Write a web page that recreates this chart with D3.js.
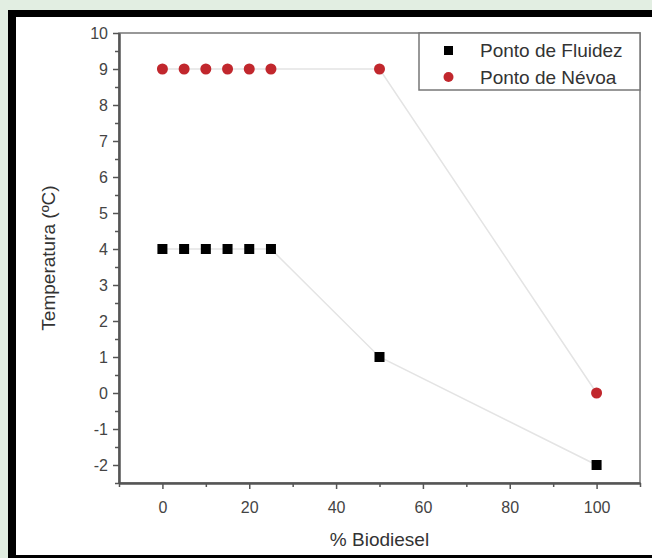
<!DOCTYPE html>
<html>
<head>
<meta charset="utf-8">
<script src="https://cdn.jsdelivr.net/npm/d3@7"></script>
<style>
  html, body { margin: 0; overflow: hidden; background: #e2eee2; }
  svg { display: block; }
  text { font-family: "Liberation Sans", Arial, sans-serif; }
</style>
</head>
<body>
<div id="chart"></div>
<script>
var wd = 652, ht = 558;

// data
var biodiesel = [0, 5, 10, 15, 20, 25, 50, 100];
var fluidez = [4, 4, 4, 4, 4, 4, 1, -2];
var nevoa = [9, 9, 9, 9, 9, 9, 9, 0];
var seriesNames = ["Ponto de Fluidez", "Ponto de Névoa"];
var xTicks = [0, 20, 40, 60, 80, 100];
var yTicks = [-2, -1, 0, 1, 2, 3, 4, 5, 6, 7, 8, 9, 10];

var margin = { top: 33, right: 12, bottom: 75, left: 119 };

var svg = d3.select("#chart").append("svg").attr("width", wd).attr("height", ht);

// white sheet, black border on top, left and bottom only (image is cut on the right)
svg.append("rect").attr("x", 8).attr("y", 10).attr("width", wd - 8).attr("height", ht - 10).attr("fill", "#fff");
svg.append("rect").attr("x", 8).attr("y", 10).attr("width", wd - 8).attr("height", 7).attr("fill", "#000");
svg.append("rect").attr("x", 8).attr("y", 10).attr("width", 8).attr("height", ht - 10).attr("fill", "#000");
svg.append("rect").attr("x", 8).attr("y", 555).attr("width", wd - 8).attr("height", 3).attr("fill", "#000");

var xScale = d3.scaleLinear().domain([-10, 110]).range([margin.left, wd - margin.right]);
var yScale = d3.scaleLinear().domain([-2.5, 10]).range([ht - margin.bottom, margin.top]);

var axisColor = "#555";

// plot box
svg.append("rect")
   .attr("x", xScale(-10)).attr("y", yScale(10))
   .attr("width", xScale(110) - xScale(-10)).attr("height", yScale(-2.5) - yScale(10))
   .attr("fill", "none").attr("stroke", "#777").attr("stroke-width", 1.5);

var plain = function(d){ return String(d); };
var xAxis = d3.axisBottom(xScale).tickValues(xTicks).tickSize(6).tickSizeOuter(0).tickFormat(plain);
var xMinor = d3.axisBottom(xScale).tickValues(d3.range(-10, 111, 10).filter(function(v){ return v % 20 != 0; })).tickSize(4).tickFormat("").tickSizeOuter(0);
var yAxis = d3.axisLeft(yScale).tickValues(yTicks).tickSize(6).tickSizeOuter(0).tickFormat(plain);
var yMinor = d3.axisLeft(yScale).tickValues(d3.range(-2.5, 10, 1)).tickSize(4).tickFormat("").tickSizeOuter(0);

function styleAxis(g)
{
  g.select(".domain").attr("stroke", axisColor).attr("stroke-width", 2);
  g.selectAll(".tick line").attr("stroke", axisColor).attr("stroke-width", 1.5);
  g.selectAll(".tick text").attr("fill", "#444").style("font-size", "16px").style("font-family", "Liberation Sans, Arial, sans-serif");
}

svg.append("g").attr("transform", "translate(0," + yScale(-2.5) + ")").call(xMinor).call(styleAxis);
svg.append("g").attr("class", "axis x").attr("transform", "translate(0," + yScale(-2.5) + ")").call(xAxis).call(styleAxis)
   .selectAll(".tick text").attr("dy", "1.3em");
svg.append("g").attr("transform", "translate(" + xScale(-10) + ",0)").call(yMinor).call(styleAxis);
svg.append("g").attr("class", "axis y").attr("transform", "translate(" + xScale(-10) + ",0)").call(yAxis).call(styleAxis)
   .selectAll(".tick text").attr("x", -11);

// connecting lines
var line = d3.line().x(function(d){ return xScale(d[0]); }).y(function(d){ return yScale(d[1]); });
[fluidez, nevoa].forEach(function(vals)
{
  svg.append("path")
     .datum(biodiesel.map(function(b, i){ return [b, vals[i]]; }))
     .attr("d", line).attr("fill", "none").attr("stroke", "#e4e4e4").attr("stroke-width", 1.5);
});

// markers
svg.append("g").selectAll("rect").data(biodiesel).enter().append("rect")
   .attr("x", function(d){ return xScale(d) - 5; })
   .attr("y", function(d, i){ return yScale(fluidez[i]) - 5; })
   .attr("width", 10).attr("height", 10).attr("fill", "#000");

svg.append("g").selectAll("circle").data(biodiesel).enter().append("circle")
   .attr("cx", function(d){ return xScale(d); })
   .attr("cy", function(d, i){ return yScale(nevoa[i]); })
   .attr("r", 5.5).attr("fill", "#c1272d");

// legend
var lg = svg.append("g");
lg.append("rect").attr("x", 419).attr("y", yScale(10)).attr("width", xScale(110) - 419).attr("height", 57)
  .attr("fill", "#fff").attr("stroke", "#777").attr("stroke-width", 1.5);
lg.append("rect").attr("x", 444).attr("y", 46).attr("width", 9).attr("height", 9).attr("fill", "#000");
lg.append("circle").attr("cx", 448.5).attr("cy", 77).attr("r", 5).attr("fill", "#c1272d");
lg.append("text").attr("x", 480).attr("y", 57).attr("fill", "#333").style("font-size", "19px").text(seriesNames[0]);
lg.append("text").attr("x", 480).attr("y", 84).attr("fill", "#333").style("font-size", "19px").text(seriesNames[1]);

// titles
svg.append("text").attr("text-anchor", "middle").attr("x", (xScale(-10) + xScale(110)) / 2).attr("y", 546)
   .attr("fill", "#333").style("font-size", "19px").text("% Biodiesel");
svg.append("text").attr("text-anchor", "middle")
   .attr("transform", "translate(55," + (yScale(-2.5) + yScale(10)) / 2 + ") rotate(-90)")
   .attr("fill", "#333").style("font-size", "19px").text("Temperatura (ºC)");
</script>
</body>
</html>
